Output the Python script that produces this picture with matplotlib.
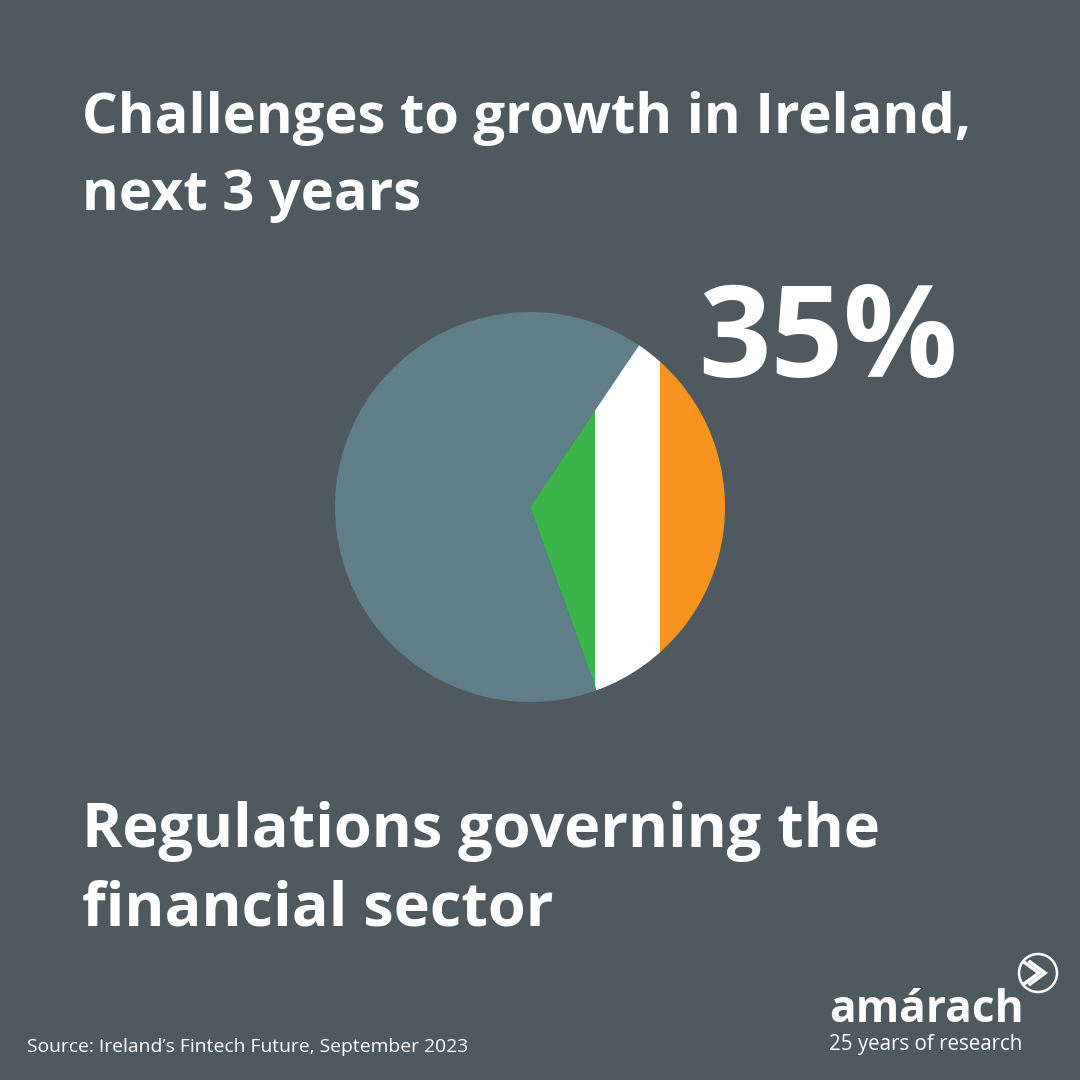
import matplotlib
matplotlib.use("Agg")
import matplotlib.pyplot as plt
from matplotlib.patches import Rectangle, Circle

# donnees du graphique
titre = ["Challenges to growth in Ireland,", "next 3 years"]
libelle = ["Regulations governing the", "financial sector"]
source = "Source: Ireland\u2019s Fintech Future, September 2023"
valeurs = [35, 65]          # part "regulations" puis reste
pourcentage = "35%"

fond = "#4e5a60"
gris_pie = "#5f7e8a"
drapeau = ["#3bb54a", "#ffffff", "#f7941d"]   # vert, blanc, orange

fig = plt.figure(figsize=(10.8, 10.8), dpi=100, facecolor=fond)
ax = fig.add_axes([0, 0, 1, 1])
ax.set_facecolor(fond)

# camembert : centre et rayon en pixels (y compte depuis le bas)
cx, cy, r = 530, 1080 - 507, 195
wedges, _ = ax.pie(valeurs, colors=["none", gris_pie], startangle=56,
                   counterclock=False, center=(cx, cy), radius=r,
                   wedgeprops=dict(linewidth=0))

# on remplit la part de 35% avec les bandes du drapeau
for i, c in enumerate(drapeau):
    bande = Rectangle((cx + i * r / 3, cy - r), r / 3 + 0.5, 2 * r,
                      facecolor=c, edgecolor="none", zorder=3)
    ax.add_patch(bande)
    bande.set_clip_path(wedges[0])

ax.set_xlim(0, 1080)
ax.set_ylim(0, 1080)
ax.set_aspect("equal")
ax.set_axis_off()

police = "Open Sans"
rend = fig.canvas.get_renderer()


def texte(x, y, s, largeur, taille, poids):
    # on place le texte (coordonnees pixels depuis le haut) et on ajuste sa largeur
    t = ax.text(x, 1080 - y, s, color="white", fontsize=taille, fontweight=poids,
                family=police, ha="left", va="baseline")
    bb = t.get_window_extent(rend)
    t.set_fontsize(taille * largeur / bb.width)
    return t


def ligne2(x, y, s, t_ref):
    # deuxieme ligne, meme taille que la premiere
    return ax.text(x, 1080 - y, s, color="white", family=police,
                   fontweight=t_ref.get_fontweight(), fontsize=t_ref.get_fontsize(),
                   ha="left", va="baseline")


t1 = texte(82, 133, titre[0], 890, 46, "bold")
ligne2(82, 210, titre[1], t1)

texte(698, 377, pourcentage, 260, 90, "bold")

b1 = texte(82, 847, libelle[0], 798, 46, "bold")
ligne2(82, 925, libelle[1], b1)

texte(27, 1052, source, 443, 14, "normal")

# logo
texte(829, 1022, "am\u00e1rach", 194, 30, "bold")
texte(829, 1050, "25 years of research", 195, 14, "normal")
ax.add_patch(Circle((1038, 1080 - 973), 19, facecolor="none", edgecolor="white",
                    linewidth=1.8, zorder=5))
for dx in (0, -6):
    ax.plot([1030 + dx, 1045 + dx, 1030 + dx],
            [1080 - 962, 1080 - 973, 1080 - 984],
            color="white", linewidth=2.5, solid_joinstyle="miter", zorder=6)

fig.savefig("out.png", dpi=100, facecolor=fond)
